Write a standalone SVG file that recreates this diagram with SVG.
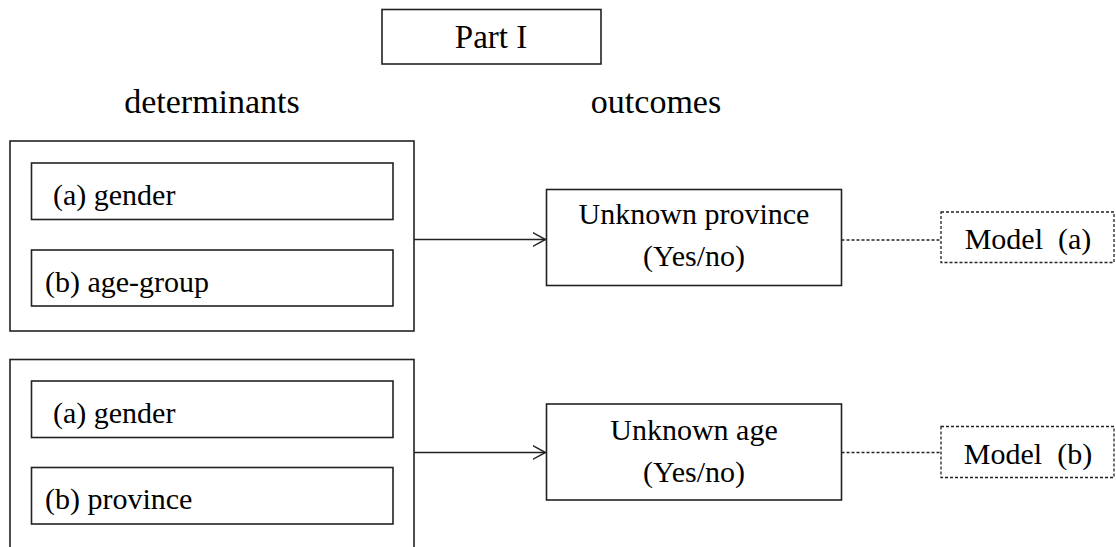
<svg xmlns="http://www.w3.org/2000/svg" width="1116" height="547" viewBox="0 0 1116 547">
<style>
.box{fill:#fff;stroke:#222;stroke-width:1.6}
.dbox{fill:#fff;stroke:#222;stroke-width:1.3;stroke-dasharray:3,2}
.t{font-family:"Liberation Serif","Times New Roman",serif;font-size:30px;fill:#000}
.h{font-family:"Liberation Serif","Times New Roman",serif;font-size:34px;fill:#000}
.c{fill:none;stroke:#222;stroke-width:1.5}
.d{fill:none;stroke:#222;stroke-width:1.3;stroke-dasharray:3,2}
</style>
<defs>
<marker id="arr" viewBox="0 0 14 16" refX="13" refY="8" markerWidth="14" markerHeight="16" markerUnits="userSpaceOnUse" orient="auto">
<path d="M0,1 L13,8 L0,15" fill="none" stroke="#222" stroke-width="1.5"/>
</marker>
</defs>
<rect width="1116" height="547" fill="#fff"/>
<g id="title">
<rect class="box" x="382" y="9.5" width="219" height="54.5"/>
<text class="h" x="491" y="48" text-anchor="middle" style="font-size:33px">Part I</text>
</g>
<g id="headings">
<text class="h" x="212" y="113" text-anchor="middle">determinants</text>
<text class="h" x="656" y="113" text-anchor="middle">outcomes</text>
</g>
<g id="group1">
<rect class="box" x="10" y="141" width="404" height="190"/>
</g>
<g id="g1a">
<rect class="box" x="31.5" y="163" width="361.5" height="56.5"/>
<text class="t" x="53" y="205">(a) gender</text>
</g>
<g id="g1b">
<rect class="box" x="31.5" y="250" width="361.5" height="56"/>
<text class="t" x="45" y="292">(b) age-group</text>
</g>
<g id="group2">
<rect class="box" x="10" y="359.5" width="404" height="200"/>
</g>
<g id="g2a">
<rect class="box" x="31.5" y="381" width="361.5" height="56.5"/>
<text class="t" x="53" y="423">(a) gender</text>
</g>
<g id="g2b">
<rect class="box" x="31.5" y="467.5" width="361.5" height="56.5"/>
<text class="t" x="45" y="509">(b) province</text>
</g>
<g id="out1">
<rect class="box" x="546.5" y="189.5" width="295" height="96"/>
<text class="t" x="694" y="224" text-anchor="middle">Unknown province</text>
<text class="t" x="694" y="266" text-anchor="middle">(Yes/no)</text>
</g>
<g id="out2">
<rect class="box" x="546.5" y="404" width="295" height="96"/>
<text class="t" x="694" y="440" text-anchor="middle">Unknown age</text>
<text class="t" x="694" y="482" text-anchor="middle">(Yes/no)</text>
</g>
<g id="modelA">
<rect class="dbox" x="941" y="212" width="173" height="50.5"/>
<text class="t" x="1028" y="249" text-anchor="middle" xml:space="preserve">Model  (a)</text>
</g>
<g id="modelB">
<rect class="dbox" x="941" y="426.5" width="173" height="51"/>
<text class="t" x="1028" y="464" text-anchor="middle" xml:space="preserve">Model  (b)</text>
</g>
<g id="connectors">
<line class="c" x1="414" y1="239.5" x2="545.5" y2="239.5" marker-end="url(#arr)"/>
<line class="c" x1="414" y1="452.5" x2="545.5" y2="452.5" marker-end="url(#arr)"/>
<line class="d" x1="841.5" y1="240" x2="941" y2="240"/>
<line class="d" x1="841.5" y1="452.5" x2="941" y2="452.5"/>
</g>
</svg>
